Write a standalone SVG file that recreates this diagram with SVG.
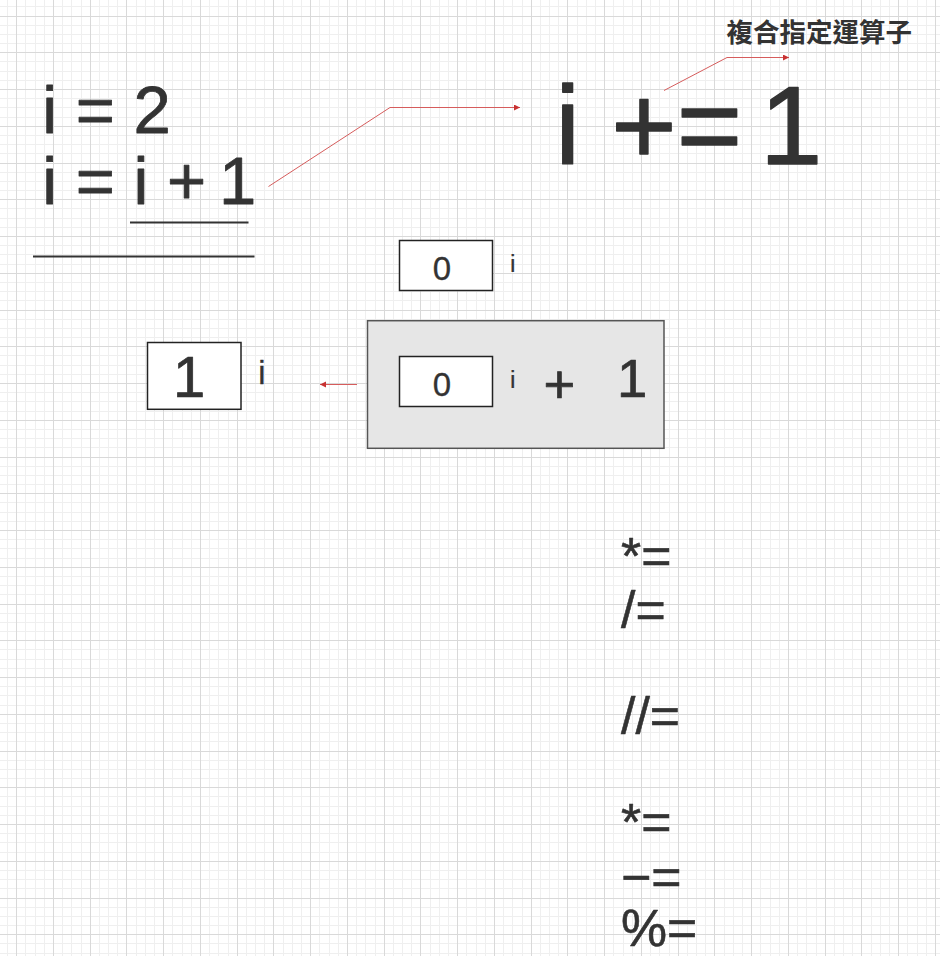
<svg xmlns="http://www.w3.org/2000/svg" width="940" height="956" viewBox="0 0 940 956">
<defs>
<style>
.t{font-family:"Liberation Sans",Arial,Helvetica,sans-serif;fill:#333333;stroke:#333333;stroke-linejoin:round}
.cjk{font-family:"Liberation Sans","Noto Sans CJK TC","Noto Sans CJK JP",sans-serif;fill:#333333;font-weight:bold}
.box{fill:#ffffff;stroke:#222222;stroke-width:1.5}
.grp{fill:#e6e6e6;stroke:#555555;stroke-width:1.5}
.rule{stroke:#333333;stroke-width:2;fill:none}
.conn{fill:none;stroke:#d65c5c;stroke-width:1}
.gmin{fill:none;stroke:#efefef;stroke-width:1}
.gmaj{fill:none;stroke:#d9d9d9;stroke-width:1}
</style>
<marker id="ah" markerUnits="userSpaceOnUse" markerWidth="8" markerHeight="8" refX="6" refY="3" orient="auto">
<path d="M0 0L6 3L0 6Z" fill="#c83232"/>
</marker>
</defs>
<rect width="940" height="956" fill="#ffffff"/>
<g id="grid">
<path class="gmin" d="M7.5 0V956M25.5 0V956M35.5 0V956M44.5 0V956M62.5 0V956M71.5 0V956M81.5 0V956M99.5 0V956M108.5 0V956M117.5 0V956M136.5 0V956M145.5 0V956M154.5 0V956M172.5 0V956M182.5 0V956M191.5 0V956M209.5 0V956M218.5 0V956M228.5 0V956M246.5 0V956M255.5 0V956M264.5 0V956M283.5 0V956M292.5 0V956M301.5 0V956M319.5 0V956M329.5 0V956M338.5 0V956M356.5 0V956M365.5 0V956M375.5 0V956M393.5 0V956M402.5 0V956M411.5 0V956M430.5 0V956M439.5 0V956M448.5 0V956M466.5 0V956M476.5 0V956M485.5 0V956M503.5 0V956M512.5 0V956M522.5 0V956M540.5 0V956M549.5 0V956M558.5 0V956M577.5 0V956M586.5 0V956M595.5 0V956M613.5 0V956M623.5 0V956M632.5 0V956M650.5 0V956M659.5 0V956M669.5 0V956M687.5 0V956M696.5 0V956M705.5 0V956M724.5 0V956M733.5 0V956M742.5 0V956M760.5 0V956M770.5 0V956M779.5 0V956M797.5 0V956M806.5 0V956M816.5 0V956M834.5 0V956M843.5 0V956M852.5 0V956M871.5 0V956M880.5 0V956M889.5 0V956M907.5 0V956M917.5 0V956M926.5 0V956
M0 6.5H940M0 25.5H940M0 34.5H940M0 43.5H940M0 61.5H940M0 71.5H940M0 80.5H940M0 98.5H940M0 107.5H940M0 117.5H940M0 135.5H940M0 144.5H940M0 153.5H940M0 172.5H940M0 181.5H940M0 190.5H940M0 208.5H940M0 218.5H940M0 227.5H940M0 245.5H940M0 254.5H940M0 264.5H940M0 282.5H940M0 291.5H940M0 300.5H940M0 319.5H940M0 328.5H940M0 337.5H940M0 355.5H940M0 365.5H940M0 374.5H940M0 392.5H940M0 401.5H940M0 411.5H940M0 429.5H940M0 438.5H940M0 447.5H940M0 466.5H940M0 475.5H940M0 484.5H940M0 502.5H940M0 512.5H940M0 521.5H940M0 539.5H940M0 548.5H940M0 558.5H940M0 576.5H940M0 585.5H940M0 594.5H940M0 613.5H940M0 622.5H940M0 631.5H940M0 649.5H940M0 659.5H940M0 668.5H940M0 686.5H940M0 695.5H940M0 705.5H940M0 723.5H940M0 732.5H940M0 741.5H940M0 760.5H940M0 769.5H940M0 778.5H940M0 796.5H940M0 806.5H940M0 815.5H940M0 833.5H940M0 842.5H940M0 852.5H940M0 870.5H940M0 879.5H940M0 888.5H940M0 907.5H940M0 916.5H940M0 925.5H940M0 943.5H940M0 953.5H940"/>
<path class="gmaj" d="M16.5 0V956M53.5 0V956M90.5 0V956M126.5 0V956M163.5 0V956M200.5 0V956M237.5 0V956M273.5 0V956M310.5 0V956M347.5 0V956M384.5 0V956M420.5 0V956M457.5 0V956M494.5 0V956M531.5 0V956M567.5 0V956M604.5 0V956M641.5 0V956M678.5 0V956M714.5 0V956M751.5 0V956M788.5 0V956M825.5 0V956M861.5 0V956M898.5 0V956M935.5 0V956
M0 16.5H940M0 52.5H940M0 89.5H940M0 126.5H940M0 163.5H940M0 199.5H940M0 236.5H940M0 273.5H940M0 310.5H940M0 346.5H940M0 383.5H940M0 420.5H940M0 457.5H940M0 493.5H940M0 530.5H940M0 567.5H940M0 604.5H940M0 640.5H940M0 677.5H940M0 714.5H940M0 751.5H940M0 787.5H940M0 824.5H940M0 861.5H940M0 898.5H940M0 934.5H940"/>
</g>
<g id="connectors">
<path class="conn" d="M268.5 186.5L390 107.5H520" marker-end="url(#ah)"/>
<path class="conn" d="M664 90.5L727 57.5H789" marker-end="url(#ah)"/>
<path class="conn" d="M357 384.5H320" marker-end="url(#ah)"/>
</g>
<g id="assign-lines">
<text class="t" x="42.3" y="132.7" font-size="67" stroke-width="0.8" xml:space="preserve">i = 2</text>
<text class="t" x="42.3" y="204" font-size="67" stroke-width="0.8" xml:space="preserve">i = i +<tspan x="219">1</tspan></text>
<line class="rule" x1="130" y1="222.5" x2="248.5" y2="222.5"/>
<line class="rule" x1="33" y1="256.5" x2="254.5" y2="256.5"/>
</g>
<g id="compound">
<text class="t" x="555.3" y="164" font-size="112" stroke-width="1.4" xml:space="preserve">i +=<tspan x="760">1</tspan></text>
</g>
<g id="label-compound">
<text class="cjk" x="726.5" y="41.5" font-size="26.5">複合指定運算子</text>
</g>
<g id="box-top">
<rect class="box" x="399.5" y="240.5" width="93" height="50"/>
<text class="t" x="442" y="279.6" font-size="33" stroke-width="0.3" text-anchor="middle">0</text>
<text class="t" x="510.1" y="271.7" font-size="24.7" stroke-width="0.2">i</text>
</g>
<g id="box-result">
<rect class="box" x="147.5" y="342.5" width="93.5" height="66.8"/>
<text class="t" x="173" y="396.7" font-size="58" stroke-width="0.7">1</text>
<text class="t" x="258.2" y="384" font-size="32.6" stroke-width="0.3">i</text>
</g>
<g id="expr-group">
<rect class="grp" x="367.5" y="320.7" width="296.5" height="127.6"/>
<rect class="box" x="399.5" y="356.5" width="93" height="50"/>
<text class="t" x="442" y="395.6" font-size="33" stroke-width="0.3" text-anchor="middle">0</text>
<text class="t" x="510.1" y="387.7" font-size="24.7" stroke-width="0.2">i</text>
<text class="t" x="543.6" y="403" font-size="54.5" stroke-width="0.7">+</text>
<text class="t" x="616.9" y="397.3" font-size="54.5" stroke-width="0.7">1</text>
</g>
<g id="operators">
<text class="t" x="621" y="574.4" font-size="51.8" stroke-width="0.6">*=</text>
<text class="t" x="621" y="628.4" font-size="51.8" stroke-width="0.6">/=</text>
<text class="t" x="621" y="734.4" font-size="51.8" stroke-width="0.6">//=</text>
<text class="t" x="621" y="840.4" font-size="51.8" stroke-width="0.6">*=</text>
<text class="t" x="621" y="895" font-size="51.8" stroke-width="0.6">−=</text>
<text class="t" x="621" y="946" font-size="51.8" stroke-width="0.6">%=</text>
</g>
</svg>
